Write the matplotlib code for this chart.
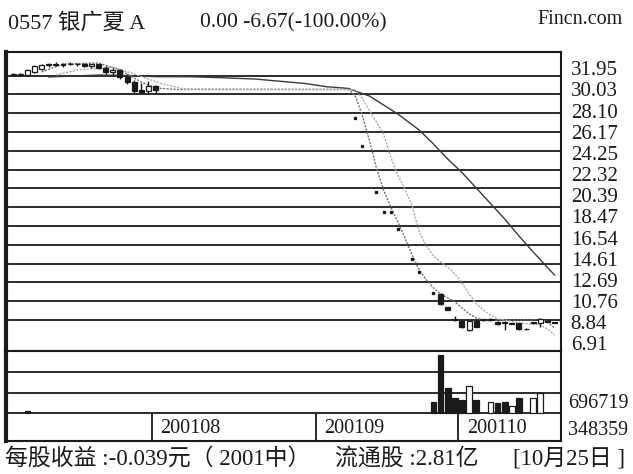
import numpy as np
import matplotlib.pyplot as plt

plt.rcParams['font.family'] = ['Liberation Serif', 'Noto Sans CJK SC']

# price scale labels (right side)
price_labels = ['31.95', '30.03', '28.10', '26.17', '24.25', '22.32', '20.39',
                '18.47', '16.54', '14.61', '12.69', '10.76', '8.84', '6.91']
price_levels = [float(s) for s in price_labels]
vol_labels = ['696719', '348359']
vol_levels = [696719, 348359]

# trading day index of the first day of each month
month_start = [19, 42, 62]
month_names = ['200108', '200109', '200110']

# daily candles (day index, open, high, low, close)
c_day = [-1, 0, 1, 2, 3, 4, 5, 6, 7, 8, 9, 10, 11, 12, 13, 14, 15, 16, 17, 18, 19,
         59, 60, 61, 62, 63, 64, 65, 66, 67, 68, 69, 70, 71, 72, 73, 74, 75]
c_open = [32.1, 32.0, 32.0, 32.3, 32.6, 33.0, 33.2, 33.0, 33.2, 33.1, 33.2, 32.9, 33.1,
          32.7, 32.3, 32.5, 31.8, 31.3, 30.5, 30.4, 30.9,
          9.55, 8.25, 7.0, 6.8, 5.85, 6.8, 6.95, 6.9, 6.75, 6.7, 6.5, 6.55, 6.0,
          6.55, 6.6, 6.8, 6.7]
c_high = [32.2, 32.2, 32.6, 33.0, 33.1, 33.3, 33.4, 33.3, 33.4, 33.3, 33.3, 33.2, 33.2,
          32.9, 32.7, 32.6, 32.1, 31.5, 31.2, 31.4, 31.0,
          9.65, 8.27, 7.3, 6.85, 6.85, 6.9, 7.0, 7.1, 6.8, 6.76, 6.65, 6.6, 6.05,
          6.75, 7.1, 6.85, 6.75]
c_low = [31.9, 31.9, 31.9, 32.2, 32.5, 32.8, 32.9, 32.8, 33.0, 32.9, 32.8, 32.7, 32.6,
         32.1, 32.0, 31.6, 31.1, 30.2, 30.2, 30.2, 30.2,
         8.45, 7.93, 6.85, 6.1, 5.8, 6.15, 6.85, 6.85, 6.4, 5.9, 6.45, 5.9, 5.9,
         6.5, 6.2, 6.7, 6.6]
c_close = [32.0, 32.1, 32.5, 32.9, 33.0, 33.2, 33.0, 33.2, 33.1, 33.2, 32.9, 33.1, 32.7,
           32.3, 32.5, 31.8, 31.3, 30.4, 30.3, 30.9, 30.5,
           8.5, 7.95, 6.95, 6.2, 6.8, 6.2, 6.9, 7.05, 6.45, 6.65, 6.6, 5.95, 5.95,
           6.7, 7.0, 6.75, 6.65]

# limit-down days shown as single dots
dot_day = [47, 48, 50, 51, 52, 53, 55, 56, 58]
dot_price = [27.58, 24.75, 20.06, 17.98, 17.98, 16.19, 13.13, 11.86, 9.71]

# moving averages
ma1_day = [3, 6, 11, 14, 17, 19, 22, 46, 47, 48, 49, 50, 51, 52, 53, 54, 55, 56, 57,
           58, 59, 60, 61, 62, 63, 64, 65, 68, 72, 73, 74, 75]
ma1_val = [32.33, 33.15, 33.25, 32.53, 31.30, 30.69, 30.54, 30.54, 29.97, 27.90,
           25.34, 22.48, 20.24, 18.50, 16.96, 15.32, 13.58, 12.04, 11.02, 10.20,
           9.58, 9.17, 8.76, 8.15, 7.53, 7.12, 6.91, 6.91, 6.91, 7.01, 6.71, 6.09]
ma2_day = [5, 8, 13, 16, 20, 23, 46, 47, 48, 49, 50, 51, 52, 53, 54, 55, 56, 57, 58,
           59, 60, 61, 62, 63, 64, 65, 66, 67, 68, 69, 70, 71, 72, 73, 74, 75]
ma2_val = [32.02, 32.53, 32.84, 32.12, 31.10, 30.59, 30.54, 30.48, 29.66, 28.43,
           27.20, 25.97, 23.62, 21.77, 20.34, 18.60, 15.93, 14.50, 13.47, 12.86,
           12.34, 11.63, 10.71, 9.58, 8.56, 7.94, 7.43, 7.01, 6.91, 6.76, 6.60,
           6.55, 6.50, 6.40, 5.99, 5.37]
ma3_day = [4, 11, 15, 19, 24, 28, 33, 36, 40, 43, 46, 49, 53, 56, 58, 60, 62, 64, 66,
           68, 70, 72, 74, 75]
ma3_val = [31.82, 32.02, 31.97, 31.85, 31.84, 31.75, 31.61, 31.41, 31.15, 30.82,
           30.65, 29.87, 28.02, 26.38, 24.95, 23.41, 22.03, 20.44, 18.85, 17.26,
           15.52, 13.88, 12.29, 11.52]

# volume (day index, volume, up day)
v_day = [1, 58, 59, 60, 61, 62, 63, 64, 66, 67, 68, 69, 70, 72, 73]
v_val = [35000, 179000, 995000, 421000, 248000, 219000, 460000, 219000, 190000,
         162000, 190000, 116000, 259000, 259000, 345000]
v_up = [False, False, False, False, False, False, True, False, True, False, False,
        True, False, True, True]

W, H = 633, 474
fig = plt.figure(figsize=(W / 100, H / 100), dpi=100)


def box(x0, y0, x1, y1):
    return [x0 / W, 1 - y1 / H, (x1 - x0) / W, (y1 - y0) / H]


ink = '#1a1a1a'
xlim = (-2.0, 75.9)

# ---- price panel
ax = fig.add_axes(box(6, 52, 561, 351))
ax.set_xlim(*xlim)
ax.set_ylim(3.73, 34.38)
ax.set_xticks([])
ax.set_yticks([])
for lv in price_levels:
    ax.axhline(lv, color=ink, lw=1.3, zorder=1)

o = np.array(c_open)
c = np.array(c_close)
up = c >= o
body_lo = np.minimum(o, c)
body_h = np.maximum(np.abs(c - o), 0.08)
ax.vlines(c_day, c_low, c_high, color=ink, lw=1.0, zorder=3)
ax.bar(c_day, body_h, bottom=body_lo, width=0.7,
       color=np.where(up, 'white', ink), edgecolor=ink, lw=0.9, zorder=4)
ax.plot(dot_day, dot_price, 's', ms=1.8, color=ink, zorder=4)

ax.plot(ma3_day, ma3_val, color='#3a3a3a', lw=1.0, zorder=2)
ax.plot(ma1_day, ma1_val, color='#707070', lw=1.0, ls=(0, (1.5, 1)), zorder=2)
ax.plot(ma2_day, ma2_val, color='#a8a8a8', lw=1.0, ls=(0, (1.5, 1)), zorder=2)

for s in ax.spines.values():
    s.set_linewidth(1.5)
    s.set_color(ink)
ax.spines['left'].set_linewidth(3)

labp = ax.twinx()
labp.set_ylim(6.209, 33.43)
labp.set_yticks(price_levels)
labp.set_yticklabels(price_labels)
labp.tick_params(axis='y', length=0, pad=7, labelsize=15, labelcolor=ink)
for s in labp.spines.values():
    s.set_visible(False)

# ---- volume panel with date row underneath
av = fig.add_axes(box(6, 351, 561, 441))
av.set_xlim(*xlim)
av.set_ylim(-488050, 1064050)
av.set_xticks([])
av.set_yticks([])
for lv in [0] + vol_levels:
    av.axhline(lv, color=ink, lw=1.3, zorder=1)
av.bar(v_day, v_val, width=0.8, color=['white' if u else ink for u in v_up],
       edgecolor=ink, lw=0.9, zorder=3)

for d, name in zip(month_start, month_names):
    av.vlines(d - 0.5, -488050, 0, color=ink, lw=1.3)
    av.text(d + 0.7, -275000, name, fontsize=14.5, color=ink, va='center', ha='left')

for s in av.spines.values():
    s.set_linewidth(1.5)
    s.set_color(ink)
av.spines['left'].set_linewidth(3)

labv = av.twinx()
labv.set_ylim(188060, 1324000)
labv.set_yticks(vol_levels)
labv.set_yticklabels(vol_labels)
labv.tick_params(axis='y', length=0, pad=5, labelsize=14.5, labelcolor=ink)
for s in labv.spines.values():
    s.set_visible(False)

# ---- header and footer
fig.text(8 / W, 1 - 23 / H, '0557 银广夏 A', fontsize=16, color=ink, va='center')
fig.text(200 / W, 1 - 23 / H, '0.00 -6.67(-100.00%)', fontsize=15.5, color=ink, va='center')
fig.text(623 / W, 1 - 19 / H, 'Fincn.com', fontsize=14.5, color=ink, va='center', ha='right')
fig.text(5 / W, 1 - 459 / H, '每股收益 :-0.039元（ 2001中）', fontsize=16.5, color=ink, va='center')
fig.text(335 / W, 1 - 459 / H, '流通股 :2.81亿', fontsize=16.5, color=ink, va='center')
fig.text(625 / W, 1 - 459 / H, '[10月25日 ]', fontsize=16.5, color=ink, va='center', ha='right')

fig.savefig('out.png', dpi=100)
